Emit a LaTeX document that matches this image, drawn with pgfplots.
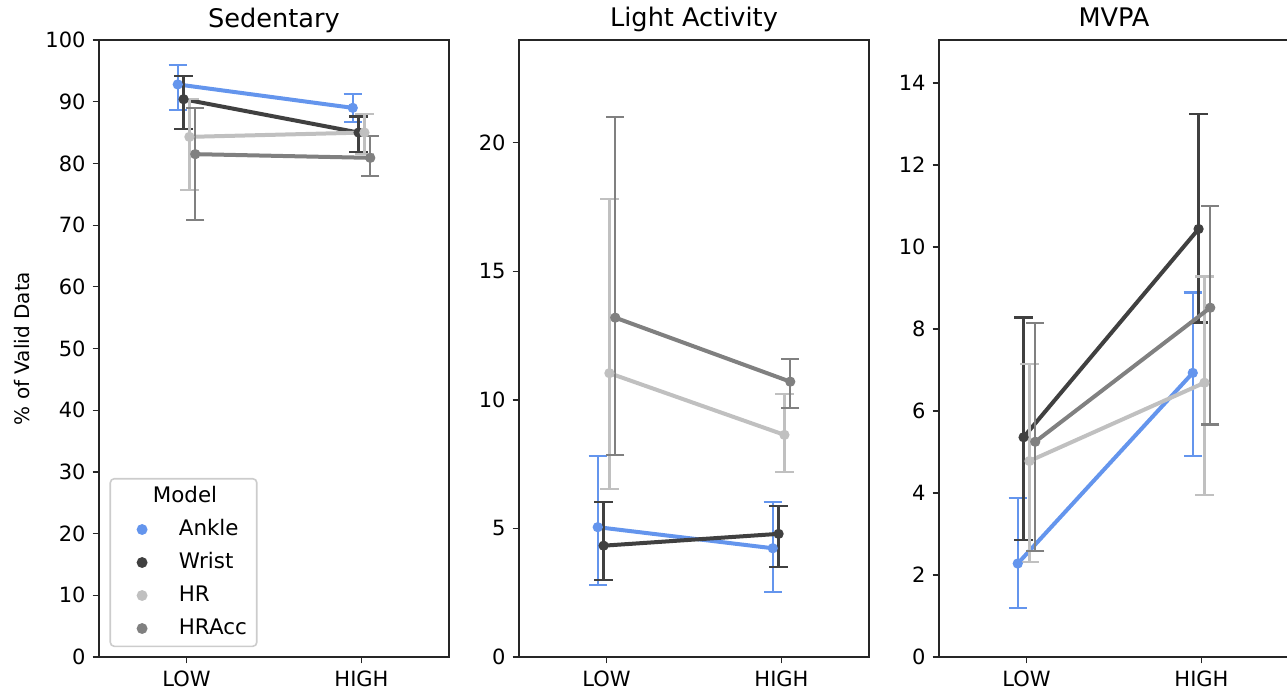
\documentclass[border=0pt]{standalone}
\usepackage{pgfplots}
\pgfplotsset{compat=1.18}
\usepackage{fontspec}
\setmainfont{DejaVu Sans}
\definecolor{ankle}{RGB}{100,149,237}
\definecolor{wrist}{RGB}{64,64,64}
\definecolor{hr}{RGB}{192,192,192}
\definecolor{hracc}{RGB}{128,128,128}
\pgfplotsset{
 panel/.style={
  scale only axis, width=175pt, height=308.5pt,
  xmin=-0.5, xmax=1.5, xtick={0,1}, xticklabels={LOW,HIGH},
  xtick pos=lower, ytick pos=left,
  tick align=outside, major tick length=3.2pt,
  tick style={black!85, line width=0.6pt},
  axis line style={black!85, line width=0.7pt},
  ticklabel style={font=\fontsize{10.5}{12}\selectfont},
  /pgf/number format/assume math mode=true,
  every axis title/.style={at={(0.5,1)}, anchor=base, yshift=6.5pt, font=\fontsize{12.8}{15}\selectfont},
 },
 ser/.style={line width=2pt, color=#1, mark=*, mark size=2.3pt,
   mark options={solid, fill=#1, draw=#1, line width=0.5pt},
   error bars/.cd, y dir=both, y explicit,
   error bar style={line width=1.1pt, color=#1},
   error mark options={rotate=90, line width=1.1pt, mark size=4.6pt, color=#1}},
 legmark/.style={legend image code/.code={%
   \draw[only marks, mark=*, mark size=2.3pt, color=#1] plot coordinates {(0pt,0pt)};
   \path (-12.5pt,0pt) (16pt,0pt);}},
}
\newcommand{\ser}[2]{\addplot[ser=#1] table[row sep=\\, x=x, y=y,
  y error plus expr=\thisrow{hi}-\thisrow{y},
  y error minus expr=\thisrow{y}-\thisrow{lo}] {#2};}
\begin{document}
\begin{tikzpicture}
% ---------- Sedentary ----------
\begin{axis}[panel, at={(49.5pt,17.5pt)}, anchor=south west,
  title={Sedentary}, ymin=0, ymax=100, ytick={0,10,...,100},
  ylabel={\% of Valid Data},
  ylabel style={at={(axis description cs:-0.22,0.5)}, anchor=center, font=\fontsize{10}{12}\selectfont},
  legend style={at={(0.03,0.016)}, anchor=south west, draw=black!20, rounded corners=2pt,
    line width=0.8pt, inner xsep=3pt, inner ysep=4pt, column sep=0pt,
    font=\fontsize{10.7}{12}\selectfont, row sep=6.7pt,
    nodes={inner ysep=0pt, text height=7.8pt, text depth=2pt}},
  legend cell align=left,
]
\addlegendimage{empty legend}\addlegendentry{\hspace{-13pt}Model}
\addlegendimage{legmark=ankle}\addlegendentry{Ankle}
\addlegendimage{legmark=wrist}\addlegendentry{Wrist}
\addlegendimage{legmark=hr}\addlegendentry{HR}
\addlegendimage{legmark=hracc}\addlegendentry{HRAcc}
\ser{ankle}{x y lo hi\\ -0.05 92.8 88.7 95.9\\ 0.95 89.0 86.7 91.3\\}
\ser{wrist}{x y lo hi\\ -0.0167 90.4 85.6 94.2\\ 0.9833 85.0 81.8 87.6\\}
\ser{hr}{x y lo hi\\ 0.0167 84.3 75.7 90.5\\ 1.0167 85.0 81.5 88.0\\}
\ser{hracc}{x y lo hi\\ 0.05 81.5 70.8 89.0\\ 1.05 80.9 78.0 84.5\\}
\end{axis}
% ---------- Light Activity ----------
\begin{axis}[panel, at={(259.5pt,17.5pt)}, anchor=south west,
  title={Light Activity}, ymin=0, ymax=24, ytick={0,5,10,15,20}]
\ser{ankle}{x y lo hi\\ -0.05 5.05 2.80 7.83\\ 0.95 4.23 2.52 6.04\\}
\ser{wrist}{x y lo hi\\ -0.0167 4.33 3.00 6.04\\ 0.9833 4.79 3.51 5.88\\}
\ser{hr}{x y lo hi\\ 0.0167 11.04 6.52 17.83\\ 1.0167 8.64 7.19 10.22\\}
\ser{hracc}{x y lo hi\\ 0.05 13.2 7.86 21.02\\ 1.05 10.71 9.68 11.6\\}
\end{axis}
% ---------- MVPA ----------
\begin{axis}[panel, at={(469.5pt,17.5pt)}, anchor=south west,
  title={MVPA}, ymin=0, ymax=15.05, ytick={0,2,...,14}]
\ser{ankle}{x y lo hi\\ -0.05 2.28 1.19 3.88\\ 0.95 6.93 4.90 8.89\\}
\ser{wrist}{x y lo hi\\ -0.0167 5.36 2.85 8.28\\ 0.9833 10.44 8.16 13.24\\}
\ser{hr}{x y lo hi\\ 0.0167 4.78 2.32 7.14\\ 1.0167 6.69 3.95 9.28\\}
\ser{hracc}{x y lo hi\\ 0.05 5.25 2.59 8.14\\ 1.05 8.52 5.67 11.0\\}
\end{axis}
\pgfresetboundingbox
\path (0,0) rectangle (643.5pt,346pt);
\end{tikzpicture}
\end{document}
